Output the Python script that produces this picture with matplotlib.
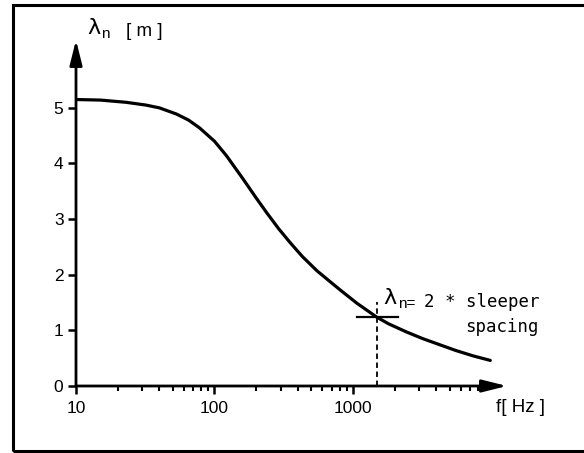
import matplotlib
matplotlib.use("Agg")
import matplotlib.pyplot as plt
from matplotlib.patches import Rectangle
from matplotlib.ticker import LogLocator, NullFormatter, FixedLocator

# bending wavelength of the rail vs frequency
FREQ = [10, 15, 23, 32, 40, 53, 65, 78, 100, 122, 161, 200, 239, 290, 351, 430,
        550, 680, 805, 1064, 1480, 1800, 2440, 3200, 4250, 5500, 7400, 9800]
WAVELENGTH = [5.15, 5.14, 5.10, 5.05, 5.00, 4.89, 4.78, 4.64, 4.40, 4.14, 3.72, 3.38,
              3.11, 2.83, 2.58, 2.33, 2.07, 1.88, 1.73, 1.49, 1.24, 1.12, 0.97, 0.85,
              0.74, 0.64, 0.54, 0.46]
Y_TICKS = [0, 1, 2, 3, 4, 5]
X_TICKS = [10, 100, 1000]
X_TICK_LABELS = ["10", "100", "1000"]

# point where wavelength equals twice the sleeper spacing
SPACING_F = 1480
SPACING_LAMBDA = 1.24
MARK_F = [1070, 2115]

W, H = 584, 453
fig = plt.figure(figsize=(W / 100, H / 100), dpi=100)
fig.patch.set_facecolor("white")


def fx(px):
    return px / W


def fy(py):
    return 1 - py / H


# outer frame (open on the right, as in the scan)
fig.patches.append(Rectangle((fx(13), fy(451)), fx(600) - fx(13), fy(5) - fy(451),
                             transform=fig.transFigure, fill=False, lw=2.2,
                             edgecolor="black"))

ax = fig.add_axes([fx(76), fy(386), fx(507) - fx(76), fy(40) - fy(386)])
ax.set_xscale("log")
ax.set_xlim(10, 12940)
ax.set_ylim(0, 6.22)
for s in ax.spines.values():
    s.set_visible(False)

ax.plot(FREQ, WAVELENGTH, color="black", lw=2.3, solid_capstyle="round", zorder=3)

# axes with arrow heads
arrow = dict(arrowstyle="-|>,head_length=1.0,head_width=0.25", lw=2.0,
             color="black", mutation_scale=15, shrinkA=0, shrinkB=0)
ax.annotate("", xy=(1, 0), xytext=(0, 0), xycoords="axes fraction", arrowprops=arrow,
            annotation_clip=False)
ax.annotate("", xy=(0, 1), xytext=(0, 0), xycoords="axes fraction", arrowprops=arrow,
            annotation_clip=False)

tick_font = dict(family="Liberation Sans", size=12.5)
ax.xaxis.set_major_locator(FixedLocator(X_TICKS))
ax.set_xticklabels(X_TICK_LABELS, **tick_font)
ax.xaxis.set_minor_locator(LogLocator(base=10, subs=range(2, 10)))
ax.xaxis.set_minor_formatter(NullFormatter())
ax.set_yticks(Y_TICKS)
ax.set_yticklabels([str(v) for v in Y_TICKS], **tick_font)
ax.tick_params(axis="both", which="major", direction="out", length=6, width=1.8)
ax.tick_params(axis="x", which="major", pad=5)
ax.tick_params(axis="y", which="major", pad=3)
ax.tick_params(axis="x", which="minor", direction="out", length=3.5, width=1.5)

# sleeper spacing marker
ax.plot([SPACING_F, SPACING_F], [0, 1.51], color="black", lw=1.3, ls=(0, (3, 2)))
ax.plot(MARK_F, [SPACING_LAMBDA, SPACING_LAMBDA], color="black", lw=1.6)

fig.text(fx(383), fy(298), "λ", family="DejaVu Sans", fontsize=16, va="center",
         ha="left")
fig.text(fx(398), fy(304), "n=", family="Liberation Sans", fontsize=11, va="center",
         ha="left")
fig.text(fx(424), fy(302), "2 * sleeper", family="DejaVu Sans Mono", fontsize=12.5,
         va="center", ha="left")
fig.text(fx(465), fy(327), "spacing", family="DejaVu Sans Mono", fontsize=12.5,
         va="center", ha="left")

# axis labels
fig.text(fx(87), fy(28), "λ", family="DejaVu Sans", fontsize=16, va="center",
         ha="left")
fig.text(fx(101), fy(34), "n", family="Liberation Sans", fontsize=11, va="center",
         ha="left")
fig.text(fx(126), fy(32), "[ m ]", family="Liberation Sans", fontsize=13.5,
         va="center", ha="left")
fig.text(fx(496), fy(408), "f[ Hz ]", family="Liberation Sans", fontsize=13.5,
         va="center", ha="left")

fig.savefig("out.png", dpi=100, facecolor="white")
